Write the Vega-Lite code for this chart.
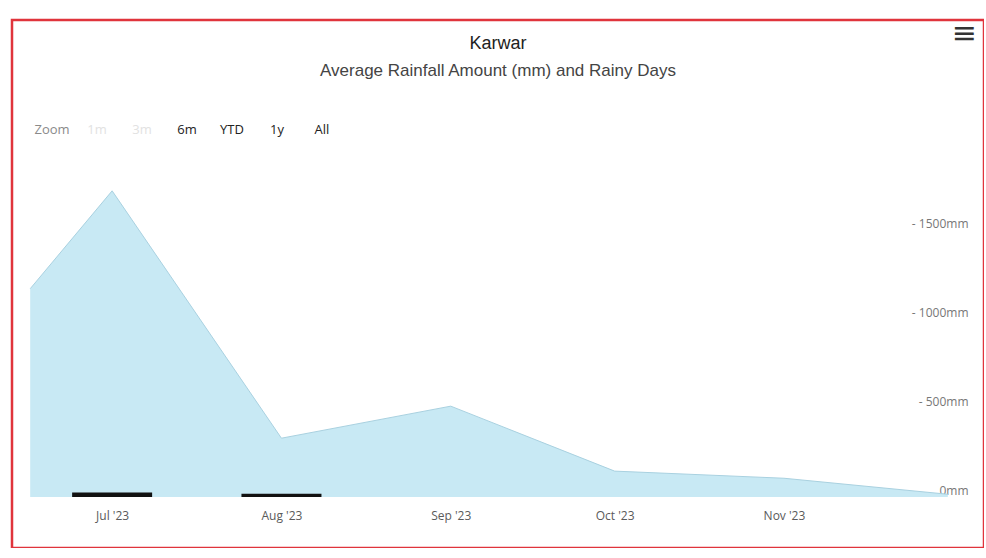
{
  "$schema": "https://vega.github.io/schema/vega-lite/v6.json",
  "autosize": {"type": "none"},
  "padding": {"left": 12, "top": 20, "right": 0, "bottom": 0},
  "width": 972,
  "height": 528,
  "background": "white",
  "config": {
    "view": {"stroke": "#e0343c", "strokeWidth": 2.5},
    "font": "Liberation Sans"
  },
  "title": {
    "text": "Karwar",
    "subtitle": "Average Rainfall Amount (mm) and Rainy Days",
    "anchor": "middle",
    "frame": "group",
    "offset": -60,
    "font": "Liberation Sans",
    "fontSize": 18,
    "fontWeight": "normal",
    "color": "#222222",
    "subtitleFont": "Liberation Sans",
    "subtitleFontSize": 17,
    "subtitleColor": "#444444",
    "subtitlePadding": 10
  },
  "datasets": {
    "rain": [
      {"date": "2023-06-16", "rainfall_mm": 1170},
      {"date": "2023-07-01", "rainfall_mm": 1720},
      {"date": "2023-08-01", "rainfall_mm": 330},
      {"date": "2023-09-01", "rainfall_mm": 510},
      {"date": "2023-10-01", "rainfall_mm": 145},
      {"date": "2023-11-01", "rainfall_mm": 105},
      {"date": "2023-12-01", "rainfall_mm": 15}
    ],
    "days": [
      {"date": "2023-07-01", "rainy_days": 25},
      {"date": "2023-08-01", "rainy_days": 18}
    ],
    "buttons": [
      {"label": "Zoom"},
      {"label": "1m"},
      {"label": "3m"},
      {"label": "6m"},
      {"label": "YTD"},
      {"label": "1y"},
      {"label": "All"}
    ],
    "menu": [{"label": "≡"}]
  },
  "resolve": {"scale": {"x": "independent"}},
  "layer": [
    {
      "layer": [
        {
          "data": {"name": "rain"},
          "mark": {"type": "area", "color": "#c8e9f4", "opacity": 1, "line": {"color": "#a9d1e0", "strokeWidth": 1}},
          "encoding": {
            "x": {
              "field": "date",
              "type": "temporal",
              "scale": {
                "type": "utc",
                "domain": [
                  {"year": 2023, "month": 6, "date": 13, "hours": 14, "utc": true},
                  {"year": 2023, "month": 12, "date": 6, "hours": 17, "utc": true}
                ]
              },
              "axis": {
                "orient": "bottom",
                "offset": -40,
                "domain": false,
                "ticks": false,
                "grid": false,
                "labelPadding": 2,
                "title": null,
                "values": [
                  {"year": 2023, "month": 7, "date": 1, "utc": true},
                  {"year": 2023, "month": 8, "date": 1, "utc": true},
                  {"year": 2023, "month": 9, "date": 1, "utc": true},
                  {"year": 2023, "month": 10, "date": 1, "utc": true},
                  {"year": 2023, "month": 11, "date": 1, "utc": true}
                ],
                "labelExpr": "utcFormat(datum.value, \"%b '%y\")",
                "labelFont": "Open Sans",
                "labelFontSize": 12,
                "labelColor": "#5a5a5a"
              }
            },
            "y": {
              "field": "rainfall_mm",
              "type": "quantitative",
              "scale": {"domain": [-287, 2680], "nice": false, "zero": false},
              "axis": {
                "orient": "right",
                "offset": -16,
                "domain": false,
                "ticks": false,
                "grid": false,
                "title": null,
                "values": [0, 500, 1000, 1500],
                "labelAlign": "right",
                "labelPadding": 0,
                "labelBaseline": "alphabetic",
                "labelOffset": -2,
                "labelExpr": "datum.value === 0 ? '0mm' : '- ' + datum.value + 'mm'",
                "labelFont": "Open Sans",
                "labelFontSize": 12,
                "labelColor": "#777777"
              }
            },
            "y2": {"datum": 0}
          }
        },
        {
          "data": {"name": "days"},
          "mark": {"type": "bar", "color": "#111111", "width": 80},
          "encoding": {
            "x": {"field": "date", "type": "temporal"},
            "y": {"field": "rainy_days", "type": "quantitative"},
            "y2": {"datum": 0}
          }
        },
        {
          "data": {"name": "menu"},
          "mark": {"type": "text", "fontSize": 30, "color": "#333333", "align": "center", "baseline": "middle", "font": "DejaVu Sans"},
          "encoding": {
            "x": {"datum": {"year": 2023, "month": 12, "date": 4, "utc": true}, "type": "temporal"},
            "y": {"datum": 2600, "type": "quantitative"},
            "text": {"field": "label"}
          }
        }
      ]
    },
    {
      "data": {"name": "buttons"},
      "mark": {"type": "text", "font": "Open Sans", "fontSize": 13, "align": "center", "baseline": "middle"},
      "encoding": {
        "x": {
          "field": "label",
          "type": "nominal",
          "sort": null,
          "scale": {"type": "point", "range": [40, 310], "padding": 0},
          "axis": null
        },
        "y": {"datum": 2062, "type": "quantitative"},
        "text": {"field": "label"},
        "color": {
          "condition": [
            {"test": "datum.label === 'Zoom'", "value": "#8a8a8a"},
            {"test": "datum.label === '1m' || datum.label === '3m'", "value": "#e2e2e2"}
          ],
          "value": "#222222"
        }
      }
    }
  ]
}
